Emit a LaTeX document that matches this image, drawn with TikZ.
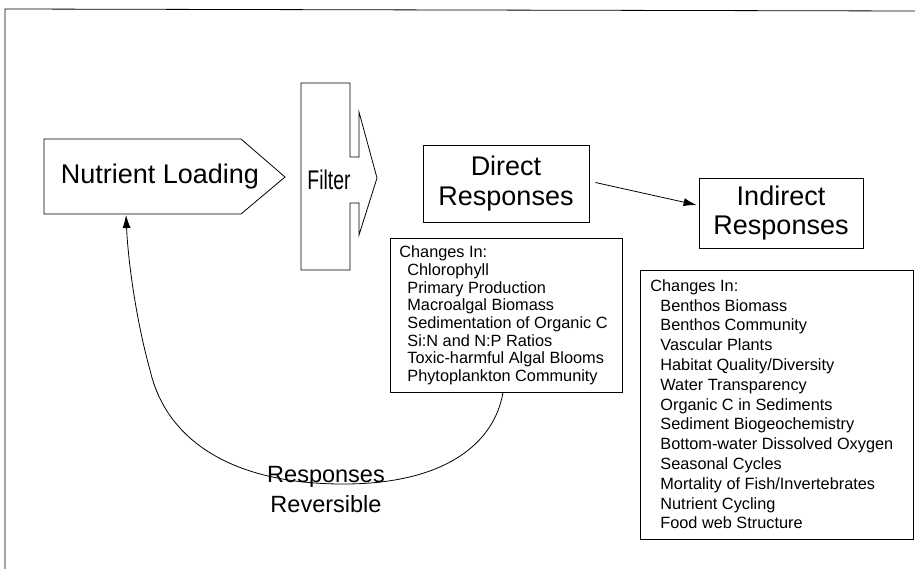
\documentclass[tikz,border=0pt]{standalone}
\usepackage{fontspec}
\setmainfont{Liberation Sans}
\usetikzlibrary{arrows.meta,calc}
\begin{document}
\begin{tikzpicture}[x=1pt,y=-1pt,line width=0.8pt,
  big/.style={font=\fontsize{27}{29.5}\selectfont,align=center,inner sep=0pt},
  frame/.style={draw,line width=0.8pt,inner sep=0pt},
  dlisttext/.style={font=\fontsize{16.3}{17.7}\selectfont,align=left,anchor=north west,inner sep=0pt},
  ilisttext/.style={font=\fontsize{16.3}{19.8}\selectfont,align=left,anchor=north west,inner sep=0pt},
  arr/.style={-{Latex[length=13pt,width=8pt]}}]
\useasboundingbox (0,0) rectangle (915,569);
% outer frame (top and left edges)
\draw (5,569) -- (5,9) -- (915,11);
% Nutrient loading pentagon
\draw (44,139) -- (241,139) -- (285,177) -- (241,214) -- (44,214) -- cycle;
\node[big] (nl) at (160,177) {Nutrient Loading};
\coordinate (nlb) at (126,215);
% Filter
\draw (350,157) -- (350,83) -- (301,83) -- (301,270) -- (350,270) -- (350,203) -- (359,203) -- (359,235) -- (377,178) -- (359,112) -- (359,157) -- cycle;
\node[big] (filt) at (329,180) {\scalebox{0.72}[1]{Filter}};
% Direct responses
\node[frame,big,minimum width=166pt,minimum height=77pt] (dr) at (506,183.5) {Direct\\Responses};
% Indirect responses
\node[frame,big,minimum width=164pt,minimum height=70pt] (ir) at (781,213) {Indirect\\Responses};
\draw[arr] ($(dr.east)+(6,-1)$) -- ($(ir.west)+(-2,-8)$);
% Direct list
\node[frame,minimum width=232pt,minimum height=154pt] (dlist) at (506,315) {};
\node[dlisttext] (dtxt) at (399,245.5) {Changes In:\\
\hspace*{8pt}Chlorophyll\\
\hspace*{8pt}Primary Production\\
\hspace*{8pt}Macroalgal Biomass\\
\hspace*{8pt}Sedimentation of Organic C\\
\hspace*{8pt}Si:N and N:P Ratios\\
\hspace*{8pt}Toxic-harmful Algal Blooms\\
\hspace*{8pt}Phytoplankton Community};
% Indirect list
\node[frame,minimum width=273pt,minimum height=269pt] (ilist) at (776.5,404.5) {};
\node[ilisttext] (itxt) at (650,279) {Changes In:\\
\hspace*{10pt}Benthos Biomass\\
\hspace*{10pt}Benthos Community\\
\hspace*{10pt}Vascular Plants\\
\hspace*{10pt}Habitat Quality/Diversity\\
\hspace*{10pt}Water Transparency\\
\hspace*{10pt}Organic C in Sediments\\
\hspace*{10pt}Sediment Biogeochemistry\\
\hspace*{10pt}Bottom-water Dissolved Oxygen\\
\hspace*{10pt}Seasonal Cycles\\
\hspace*{10pt}Mortality of Fish/Invertebrates\\
\hspace*{10pt}Nutrient Cycling\\
\hspace*{10pt}Food web Structure};
% feedback curve
\draw[arr] ($(dlist.south)+(-3,0)$) .. controls (495,440) and (450,483) .. (347,484)
  .. controls (232,485) and (166,440) .. (150,370)
  .. controls (136,320) and (128,260) .. (nlb);
\node[font=\fontsize{23.5}{30}\selectfont,align=center] (rev) at (326,490) {Responses\\Reversible};
\end{tikzpicture}
\end{document}
